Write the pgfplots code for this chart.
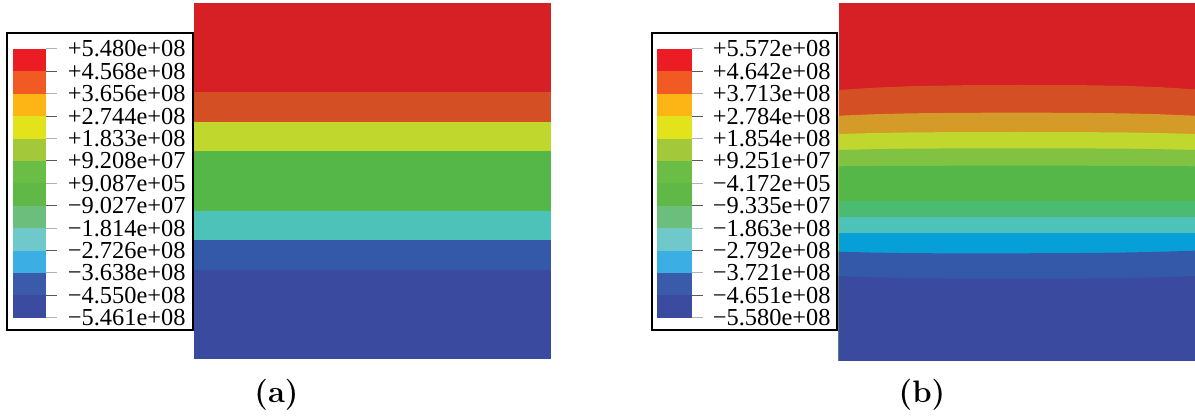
\documentclass[border=0pt]{standalone}
\usepackage{fontspec}
\usepackage{pgfplots}
\pgfplotsset{compat=1.18}
\newfontfamily\lib{Liberation Serif}
% contour colours
\definecolor{cRed}{HTML}{D71F26}
\definecolor{cOrange}{HTML}{D44F24}
\definecolor{cDkYellow}{HTML}{D59B28}
\definecolor{cYG}{HTML}{C0D72E}
\definecolor{cLGreen}{HTML}{82C242}
\definecolor{cGreen}{HTML}{55B748}
\definecolor{cTGreen}{HTML}{4BBA72}
\definecolor{cTeal}{HTML}{4CC2B8}
\definecolor{cCyan}{HTML}{069FD7}
\definecolor{cBlue}{HTML}{3559A9}
\definecolor{cDBlue}{HTML}{3A4A9F}
% legend colours
\definecolor{lA}{HTML}{EC1C24}
\definecolor{lB}{HTML}{F15A22}
\definecolor{lC}{HTML}{FDB515}
\definecolor{lD}{HTML}{E2E31A}
\definecolor{lE}{HTML}{A3C93A}
\definecolor{lF}{HTML}{6ABD45}
\definecolor{lG}{HTML}{60B947}
\definecolor{lH}{HTML}{6BBE7C}
\definecolor{lI}{HTML}{6FC9CA}
\definecolor{lJ}{HTML}{3BAEE3}
\definecolor{lK}{HTML}{3A5BA9}
\definecolor{lL}{HTML}{3A4BA0}
\newcommand\sw[5]{\addplot[fill=#1,draw=none] coordinates {(#2,#4)(#3,#4)(#3,#5)(#2,#5)};}
\newcommand\tk[4]{\addplot[color=#4,line width=0.5pt] coordinates {(#1,#3)(#2,#3)};}
\newcommand\lab[3]{\node[anchor=west,inner sep=0pt,font=\lib\fontsize{12.2}{14}\selectfont] at (axis cs:#1,#2) {#3};}
\newcommand\legendswatches[2]{%
\sw{lA}{#1}{#2}{369}{346.61}
\sw{lB}{#1}{#2}{346.61}{324.22}
\sw{lC}{#1}{#2}{324.22}{301.83}
\sw{lD}{#1}{#2}{301.83}{279.44}
\sw{lE}{#1}{#2}{279.44}{257.05}
\sw{lF}{#1}{#2}{257.05}{234.66}
\sw{lG}{#1}{#2}{234.66}{212.27}
\sw{lH}{#1}{#2}{212.27}{189.88}
\sw{lI}{#1}{#2}{189.88}{167.49}
\sw{lJ}{#1}{#2}{167.49}{145.10}
\sw{lK}{#1}{#2}{145.10}{122.71}
\sw{lL}{#1}{#2}{122.71}{100.32}}
\newcommand\legendticks[3]{%
\tk{#1}{#3}{369}{gray!60}
\tk{#1}{#3}{346.61}{black!65}
\tk{#1}{#3}{324.22}{gray!60}
\tk{#1}{#3}{301.83}{black!65}
\tk{#1}{#3}{279.44}{gray!60}
\tk{#1}{#3}{257.05}{black!65}
\tk{#1}{#3}{234.66}{gray!60}
\tk{#1}{#3}{212.27}{black!65}
\tk{#1}{#3}{189.88}{gray!60}
\tk{#1}{#3}{167.49}{black!65}
\tk{#1}{#3}{145.10}{gray!60}
\tk{#1}{#3}{122.71}{black!65}
\tk{#1}{#3}{100.32}{gray!60}}
\begin{document}
\begin{tikzpicture}
\begin{axis}[scale only axis, width=597.5pt, height=209pt,
  xmin=0, xmax=1195, ymin=0, ymax=418, hide axis, clip=false]
\addplot[draw=none] coordinates {(0,0)(1195,418)};
% ---------- panel (a) contour ----------
\sw{cRed}{194.3}{551}{415.3}{58.7}
\sw{cOrange}{194.3}{551}{326}{58.7}
\sw{cYG}{194.3}{551}{296.3}{58.7}
\sw{cGreen}{194.3}{551}{267}{58.7}
\sw{cTeal}{194.3}{551}{207}{58.7}
\sw{cBlue}{194.3}{551}{178}{58.7}
\sw{cDBlue}{194.3}{551}{148}{58.7}
% ---------- panel (b) contour ----------
\sw{cRed}{838.7}{1195}{415.3}{57}
\addplot[fill=cOrange,draw=none] coordinates {(838.7,328)(874.3,330.34)(910.0,331.79)(963.4,332.77)(1016.9,333)(1070.3,332.98)(1123.7,332.21)(1159.4,330.9)(1195,328.7)(1195,57)(838.7,57)};
\addplot[fill=cDkYellow,draw=none] coordinates {(838.7,302.3)(874.3,303.76)(910.0,304.65)(963.4,305.22)(1016.9,305.3)(1070.3,305.22)(1123.7,304.65)(1159.4,303.76)(1195,302.3)(1195,57)(838.7,57)};
\addplot[fill=cYG,draw=none] coordinates {(838.7,284)(874.3,284.98)(910.0,285.57)(963.4,285.95)(1016.9,286)(1070.3,285.95)(1123.7,285.57)(1159.4,284.98)(1195,284)(1195,57)(838.7,57)};
\addplot[fill=cLGreen,draw=none] coordinates {(838.7,268)(874.3,268.83)(910.0,269.33)(963.4,269.65)(1016.9,269.7)(1070.3,269.65)(1123.7,269.33)(1159.4,268.83)(1195,268)(1195,57)(838.7,57)};
\addplot[fill=cGreen,draw=none] coordinates {(838.7,251.7)(874.3,251.99)(910.0,252.17)(963.4,252.28)(1016.9,252.3)(1070.3,252.28)(1123.7,252.17)(1159.4,251.99)(1195,251.7)(1195,57)(838.7,57)};
\addplot[fill=cTGreen,draw=none] coordinates {(838.7,217.3)(1195,217.3)(1195,57)(838.7,57)};
\addplot[fill=cTeal,draw=none] coordinates {(838.7,201)(1195,201)(1195,57)(838.7,57)};
\addplot[fill=cCyan,draw=none] coordinates {(838.7,185)(1195,185)(1195,57)(838.7,57)};
\addplot[fill=cBlue,draw=none] coordinates {(838.7,166.3)(874.3,165.38)(910.0,164.85)(963.4,164.61)(1016.9,164.7)(1070.3,164.91)(1123.7,165.45)(1159.4,166.18)(1195,167.3)(1195,57)(838.7,57)};
\addplot[fill=cDBlue,draw=none] coordinates {(838.7,142)(874.3,140.68)(910.0,139.88)(963.4,139.37)(1016.9,139.3)(1070.3,139.37)(1123.7,139.88)(1159.4,140.68)(1195,142)(1195,57)(838.7,57)};
% ---------- legend (a) ----------
\addplot[black,line width=1pt] coordinates {(6.7,384.7)(192.7,384.7)(192.7,88)(6.7,88)} -- cycle;
\legendswatches{12.7}{45.7}
\legendticks{45.7}{45.7}{56.7}
\lab{67.5}{369}{+5.480e+08}
\lab{67.5}{346.61}{+4.568e+08}
\lab{67.5}{324.22}{+3.656e+08}
\lab{67.5}{301.83}{+2.744e+08}
\lab{67.5}{279.44}{+1.833e+08}
\lab{67.5}{257.05}{+9.208e+07}
\lab{67.5}{234.66}{+9.087e+05}
\lab{67.5}{212.27}{−9.027e+07}
\lab{67.5}{189.88}{−1.814e+08}
\lab{67.5}{167.49}{−2.726e+08}
\lab{67.5}{145.10}{−3.638e+08}
\lab{67.5}{122.71}{−4.550e+08}
\lab{67.5}{100.32}{−5.461e+08}
% ---------- legend (b) ----------
\addplot[black,line width=1pt] coordinates {(651.7,384.7)(836.7,384.7)(836.7,88)(651.7,88)} -- cycle;
\legendswatches{657.3}{691.7}
\legendticks{691.7}{691.7}{703}
\lab{712.5}{369}{+5.572e+08}
\lab{712.5}{346.61}{+4.642e+08}
\lab{712.5}{324.22}{+3.713e+08}
\lab{712.5}{301.83}{+2.784e+08}
\lab{712.5}{279.44}{+1.854e+08}
\lab{712.5}{257.05}{+9.251e+07}
\lab{712.5}{234.66}{−4.172e+05}
\lab{712.5}{212.27}{−9.335e+07}
\lab{712.5}{189.88}{−1.863e+08}
\lab{712.5}{167.49}{−2.792e+08}
\lab{712.5}{145.10}{−3.721e+08}
\lab{712.5}{122.71}{−4.651e+08}
\lab{712.5}{100.32}{−5.580e+08}
% ---------- captions ----------
\node[font=\fontsize{15.5}{18}\selectfont\bfseries] at (axis cs:276.5,23) {(a)};
\node[font=\fontsize{15.5}{18}\selectfont\bfseries] at (axis cs:922,23) {(b)};
\end{axis}
\end{tikzpicture}
\end{document}
